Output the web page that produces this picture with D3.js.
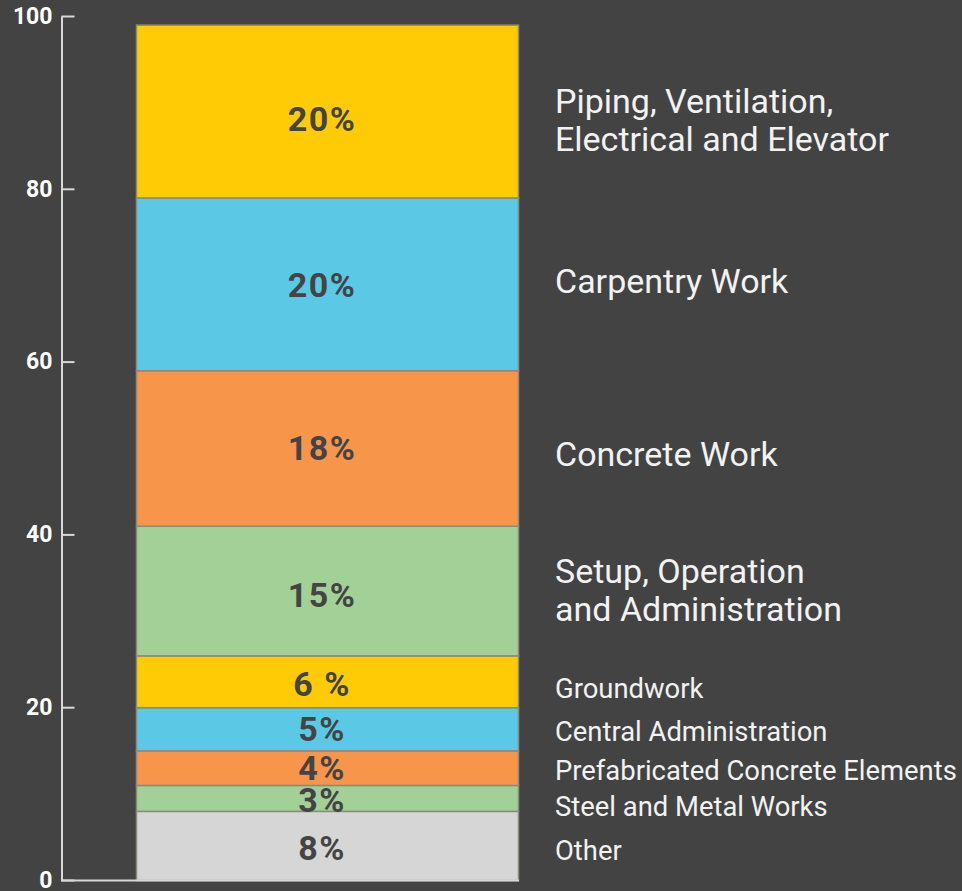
<!DOCTYPE html>
<html>
<head>
<meta charset="utf-8">
<script src="https://cdn.jsdelivr.net/npm/d3@7/dist/d3.min.js"></script>
<style>
  html, body { margin: 0; padding: 0; background: #434343; }
  svg { display: block; }
</style>
</head>
<body>
<svg id="chart" width="962" height="891"></svg>
<script>
// Cost breakdown, bottom to top
const categories = [
  "Other",
  "Steel and Metal Works",
  "Prefabricated Concrete Elements",
  "Central Administration",
  "Groundwork",
  "Setup, Operation\nand Administration",
  "Concrete Work",
  "Carpentry Work",
  "Piping, Ventilation,\nElectrical and Elevator"
];
const shares = [8, 3, 4, 5, 6, 15, 18, 20, 20];
const shareLabels = ["8%", "3%", "4%", "5%", "6 %", "15%", "18%", "20%", "20%"];
const yTicks = [0, 20, 40, 60, 80, 100];

// styling / layout per segment
const fills = ["#d6d6d6", "#a3d096", "#f7964b", "#5bc8e6", "#fecb05", "#a3d096", "#f7964b", "#5bc8e6", "#fecb05"];
const largeLabel = [false, false, false, false, false, true, true, true, true];
const nameNudge = [1, 4, -1, -1, 3, -4, 2, -7, 5];
const pctNudge = [3, 2, 0, 0, 3, 5, 0, 1, 8];

const svg = d3.select("#chart");
const W = 962, H = 891;
const margin = { top: 16, left: 61, bottom: 11 };
const y = d3.scaleLinear().domain([0, 100]).range([H - margin.bottom, margin.top]);

// stack the segments
let acc = 0;
const segs = shares.map((v, i) => {
  const s = { i, v, y0: acc, y1: acc + v };
  acc += v;
  return s;
});

const barX0 = 136, barX1 = 518;
const bx = d3.scaleLinear().domain([0, 1]).range([barX0, barX1]);

// bar segments
svg.append("g").selectAll("rect").data(segs).join("rect")
  .attr("x", bx(0) + 0.5)
  .attr("width", bx(1) - bx(0))
  .attr("y", d => y(d.y1) + 0.5)
  .attr("height", d => y(d.y0) - y(d.y1))
  .attr("fill", d => fills[d.i])
  .attr("stroke", "#8a8a80")
  .attr("stroke-width", 1.5);

// percentage labels inside the bar
svg.append("g").selectAll("text").data(segs).join("text")
  .attr("x", (bx(0) + bx(1)) / 2 - 5)
  .attr("y", d => y((d.y0 + d.y1) / 2) + pctNudge[d.i])
  .attr("dy", "0.35em")
  .attr("text-anchor", "middle")
  .attr("font-family", "Roboto, sans-serif")
  .attr("font-weight", 700)
  .attr("font-size", 34)
  .attr("letter-spacing", 1.5)
  .attr("fill", "#444444")
  .text(d => shareLabels[d.i]);

// category labels to the right
const lab = svg.append("g").selectAll("text").data(segs).join("text")
  .attr("font-family", "Roboto, sans-serif")
  .attr("font-size", d => largeLabel[d.i] ? 34 : 27.4)
  .attr("fill", "#f2f2f2")
  .attr("transform", d => `translate(555,${y((d.y0 + d.y1) / 2) + 4 + nameNudge[d.i]})`);
lab.each(function(d) {
  const lines = categories[d.i].split("\n");
  const lh = 38;
  const t = d3.select(this);
  lines.forEach((ln, k) => {
    t.append("tspan")
      .attr("x", 0)
      .attr("y", (k - (lines.length - 1) / 2) * lh)
      .attr("dy", "0.35em")
      .text(ln);
  });
});

// y axis
const axis = d3.axisLeft(y).tickValues(yTicks).tickSize(-13).tickPadding(9).tickSizeOuter(0);
const ag = svg.append("g").attr("transform", `translate(${margin.left + 0.5},0)`).call(axis);
ag.select(".domain").attr("stroke", "#d8d8d8").attr("stroke-width", 2);
ag.selectAll(".tick line").attr("stroke", "#d8d8d8").attr("stroke-width", 2);
ag.selectAll(".tick text")
  .attr("fill", "#ffffff")
  .attr("font-family", "Roboto, sans-serif")
  .attr("font-weight", 700)
  .attr("font-size", 23);

// baseline
svg.append("line")
  .attr("x1", margin.left).attr("x2", barX1 + 1)
  .attr("y1", y(0) + 0.5).attr("y2", y(0) + 0.5)
  .attr("stroke", "#d8d8d8").attr("stroke-width", 2);
</script>
</body>
</html>
